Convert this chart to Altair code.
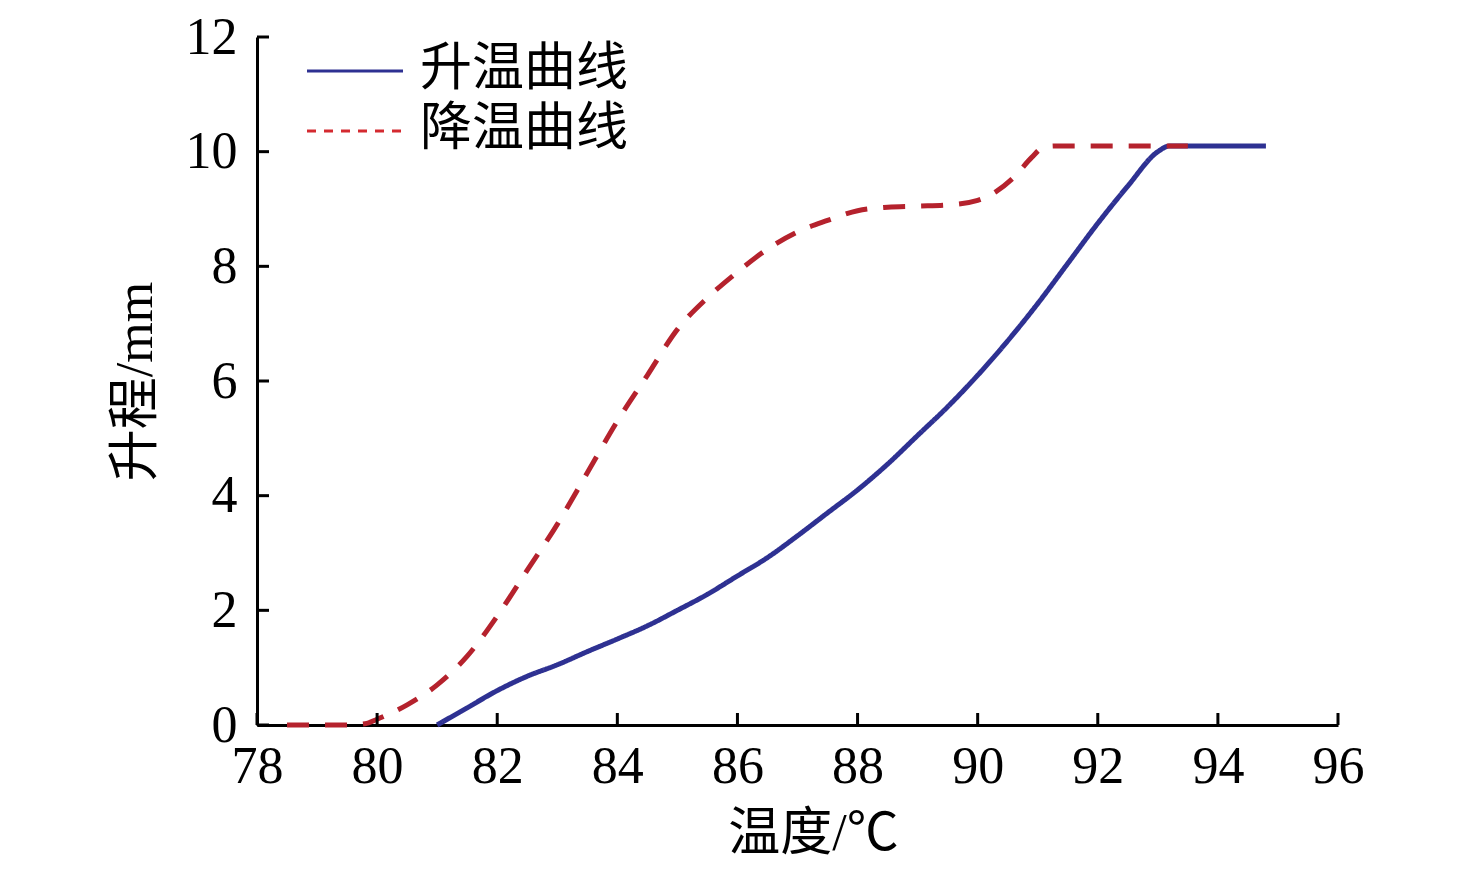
import altair as alt
import pandas as pd

# heating curve (升温曲线)
heat_x = [81.0, 81.5, 82.0, 82.5, 83.0, 83.5, 84.0, 84.5, 85.0, 85.5, 86.0, 86.5, 87.0, 87.5,
          88.0, 88.5, 89.0, 89.5, 90.0, 90.5, 91.0, 91.5, 92.0, 92.5, 93.0, 93.2, 94.0, 94.8]
heat_y = [0.0, 0.3, 0.6, 0.85, 1.05, 1.28, 1.5, 1.73, 2.0, 2.28, 2.6, 2.92, 3.3, 3.7,
          4.1, 4.55, 5.05, 5.55, 6.1, 6.7, 7.35, 8.05, 8.75, 9.4, 10.0, 10.1, 10.1, 10.1]

# cooling curve (降温曲线)
cool_x = [78.5, 79.0, 79.5, 79.8, 80.0, 80.5, 81.0, 81.5, 82.0, 82.5, 83.0, 83.5, 84.0, 84.5,
          85.0, 85.5, 86.0, 86.5, 87.0, 87.5, 88.0, 88.5, 89.0, 89.5, 90.0, 90.3, 90.6, 90.9,
          91.1, 91.3, 92.0, 93.0, 93.5]
cool_y = [0.0, 0.0, 0.0, 0.02, 0.1, 0.35, 0.7, 1.2, 1.9, 2.7, 3.5, 4.4, 5.3, 6.1,
          6.9, 7.45, 7.9, 8.3, 8.6, 8.8, 8.97, 9.03, 9.05, 9.07, 9.15, 9.3, 9.55, 9.9,
          10.08, 10.1, 10.1, 10.1, 10.1]

series_names = ["升温曲线", "降温曲线"]
series_colors = ["#2e3192", "#b5222d"]
legend_colors = ["#2e3192", "#d42a30"]
x_ticks = [78, 80, 82, 84, 86, 88, 90, 92, 94, 96]
y_ticks = [0, 2, 4, 6, 8, 10, 12]

rows = []
for i, (x, y) in enumerate(zip(heat_x, heat_y)):
    rows.append({"t": x, "h": y, "series": series_names[0], "order": i})
for i, (x, y) in enumerate(zip(cool_x, cool_y)):
    rows.append({"t": x, "h": y, "series": series_names[1], "order": i})
df = pd.DataFrame(rows)
leg = pd.DataFrame({"series": series_names, "idx": list(range(len(series_names)))})

FONT = "Liberation Serif, Noto Sans CJK SC"
W, H = 1081, 688

xscale = alt.Scale(domain=[78, 96], nice=False, zero=False)
yscale = alt.Scale(domain=[0, 12], nice=False)

xaxis = alt.Axis(values=x_ticks, format="d", title="温度/℃", ticks=False, grid=False,
                 domainColor="black", domainWidth=3,
                 labelFont=FONT, labelFontSize=52, labelColor="black", labelPadding=16,
                 labelFlush=False, labelOverlap=False,
                 titleFont=FONT, titleFontSize=52, titleFontWeight="normal",
                 titleColor="black", titleX=556, titleY=108,
                 titleBaseline="middle", titleAlign="center")
yaxis = alt.Axis(values=y_ticks, format="d", title="升程/mm", ticks=False, grid=False,
                 domainColor="black", domainWidth=3,
                 labelFont=FONT, labelFontSize=52, labelColor="black", labelPadding=20,
                 labelFlush=False, labelOverlap=False, labelBaseline="middle",
                 titleFont=FONT, titleFontSize=52, titleFontWeight="normal",
                 titleColor="black", titleAngle=270, titleX=-122, titleY=H / 2,
                 titleBaseline="middle", titleAlign="center")

lines = alt.Chart(df).mark_line(strokeWidth=5, interpolate="monotone").encode(
    x=alt.X("t:Q", scale=xscale, axis=xaxis),
    y=alt.Y("h:Q", scale=yscale, axis=yaxis),
    color=alt.Color("series:N",
                    scale=alt.Scale(domain=series_names, range=series_colors), legend=None),
    strokeDash=alt.StrokeDash("series:N",
                              scale=alt.Scale(domain=series_names, range=[[1, 0], [22, 16]]),
                              legend=None),
    order="order:Q",
)

xt = pd.DataFrame({"t": x_ticks})
yt = pd.DataFrame({"h": y_ticks})

xtick_rules = alt.Chart(xt).mark_rule(color="black", strokeWidth=3).encode(
    x=alt.X("t:Q", scale=xscale, axis=xaxis), y=alt.value(H), y2=alt.value(H - 12))
ytick_rules = alt.Chart(yt).mark_rule(color="black", strokeWidth=3).encode(
    y=alt.Y("h:Q", scale=yscale, axis=yaxis), x=alt.value(0), x2=alt.value(12))

# legend drawn from the series list through its own linear scale
leg_y = alt.Y("idx:Q", scale=alt.Scale(domain=[0, 1], range=[34, 94], nice=False, zero=False),
              axis=None)
leg_rules = alt.Chart(leg).mark_rule(strokeWidth=3).encode(
    y=leg_y, x=alt.value(50), x2=alt.value(146),
    color=alt.Color("series:N",
                    scale=alt.Scale(domain=series_names, range=legend_colors), legend=None),
    strokeDash=alt.StrokeDash("series:N",
                              scale=alt.Scale(domain=series_names, range=[[1, 0], [9, 8]]),
                              legend=None),
)
leg_text = alt.Chart(leg).mark_text(align="left", baseline="middle", font=FONT, fontSize=52,
                                    color="black", dy=-2).encode(
    y=leg_y, x=alt.value(163), text="series:N")

main = alt.layer(lines, xtick_rules, ytick_rules)
legend = alt.layer(leg_rules, leg_text)

chart = alt.layer(main, legend).resolve_scale(
    y="independent", color="independent", strokeDash="independent"
).properties(
    width=W, height=H,
    autosize=alt.AutoSizeParams(type="none"),
    padding={"left": 249, "top": 29, "right": 60, "bottom": 140},
).configure(background="white").configure_view(strokeWidth=0, stroke=None).configure_axis(grid=False)

chart.save("out.html", embed_options={"renderer": "svg", "actions": False})
